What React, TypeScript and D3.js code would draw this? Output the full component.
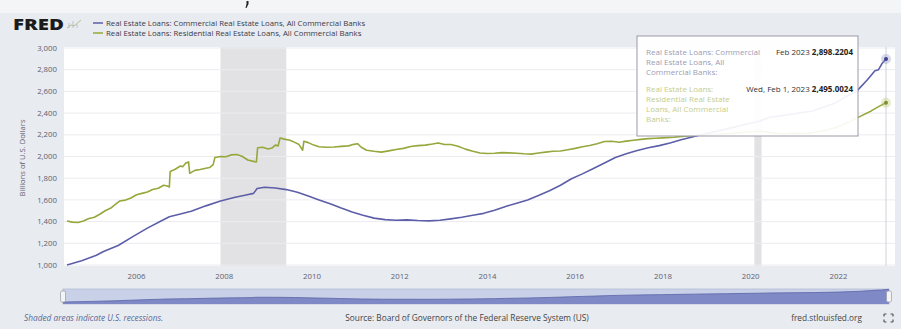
import React from "react";
import * as d3 from "d3";

const W = 901;
const H = 329;

const commercialDates = [
  "2004-06-01","2004-10-01","2005-02-01","2005-04-01","2005-08-01","2005-12-01","2006-04-01","2006-08-01","2006-10-01",
  "2007-01-01","2007-04-01","2007-08-01","2007-12-01","2008-04-01","2008-07-01","2008-09-01","2008-10-01","2008-12-01",
  "2009-03-01","2009-06-01","2009-09-01","2009-12-01","2010-03-01","2010-06-01","2010-09-01","2010-12-01",
  "2011-03-01","2011-06-01","2011-09-01","2011-12-01","2012-03-01","2012-06-01","2012-09-01","2012-12-01",
  "2013-03-01","2013-06-01","2013-09-01","2013-12-01","2014-03-01","2014-06-01","2014-09-01","2014-12-01",
  "2015-03-01","2015-06-01","2015-09-01","2015-12-01","2016-03-01","2016-06-01","2016-09-01","2016-12-01",
  "2017-03-01","2017-06-01","2017-09-01","2017-12-01","2018-03-01","2018-06-01","2018-09-01","2018-12-01",
  "2019-06-01","2019-12-01","2020-03-01","2020-06-01","2020-12-01","2021-06-01","2021-12-01",
  "2022-03-01","2022-06-01","2022-09-01","2022-11-01","2022-12-01","2023-01-01","2023-02-01"
];
const commercialValues = [
  1000,1040,1090,1125,1180,1262,1340,1410,1445,
  1470,1495,1545,1590,1625,1645,1660,1705,1716,
  1710,1695,1670,1635,1600,1565,1525,1488,
  1458,1432,1418,1412,1416,1410,1407,1412,
  1425,1440,1458,1476,1505,1540,1570,1600,
  1640,1685,1735,1795,1840,1890,1940,1990,
  2025,2055,2080,2100,2125,2155,2180,2205,
  2250,2300,2320,2360,2390,2420,2490,
  2550,2600,2710,2790,2800,2860,2898.2204
];

const residentialDates = [
  "2004-06-01","2004-07-15","2004-09-01","2004-10-15","2004-12-01","2005-01-15","2005-03-01","2005-04-15","2005-06-01",
  "2005-07-01","2005-08-15","2005-10-01","2005-11-15","2006-01-01","2006-02-15","2006-04-01","2006-05-15","2006-07-01",
  "2006-08-15","2006-09-15","2006-10-01","2006-10-08","2006-11-15","2007-01-01","2007-01-20","2007-02-15","2007-03-10",
  "2007-03-20","2007-05-01","2007-06-15","2007-08-01","2007-09-01","2007-10-01","2007-10-15","2007-12-01","2008-01-15",
  "2008-03-01","2008-04-15","2008-06-01","2008-07-15","2008-09-01","2008-09-25","2008-10-05","2008-11-15","2009-01-01",
  "2009-02-01","2009-03-01","2009-03-25","2009-04-10","2009-05-15","2009-07-01","2009-08-15","2009-09-15","2009-10-15",
  "2009-10-25","2009-12-01","2010-01-15","2010-03-01","2010-05-01","2010-07-01","2010-09-01","2010-11-01","2010-12-15",
  "2011-01-15","2011-02-15","2011-04-01","2011-06-01","2011-08-01","2011-10-01","2011-12-01","2012-02-01","2012-04-01",
  "2012-06-01","2012-08-01","2012-10-01","2012-11-15","2013-01-01","2013-03-01","2013-05-01","2013-07-01","2013-09-01",
  "2013-11-01","2014-01-01","2014-03-01","2014-05-01","2014-07-01","2014-09-01","2014-11-01","2015-01-01","2015-03-01",
  "2015-05-01","2015-07-01","2015-09-01","2015-11-01","2016-01-01","2016-03-01","2016-05-01","2016-07-01","2016-09-01",
  "2016-11-01","2017-01-01","2017-03-01","2017-05-01","2017-07-01","2017-09-01","2017-11-01","2018-01-01","2018-04-01",
  "2018-07-01","2018-10-01","2019-01-01","2019-04-01","2019-07-01","2019-10-01","2020-01-01","2020-04-01","2020-07-01",
  "2020-10-01","2021-01-01","2021-04-01","2021-07-01","2021-10-01","2022-01-01","2022-04-01","2022-07-01","2022-10-01",
  "2022-12-01","2023-02-01"
];
const residentialValues = [
  1405,1395,1392,1405,1428,1440,1468,1500,1525,
  1552,1590,1598,1618,1648,1660,1672,1695,1708,
  1735,1728,1718,1862,1880,1912,1905,1940,1950,
  1845,1872,1880,1892,1898,1925,1990,2000,1998,
  2015,2018,2000,1968,1955,1950,2080,2085,2070,
  2078,2105,2098,2170,2160,2150,2128,2110,2058,
  2140,2128,2105,2090,2085,2088,2093,2098,2112,
  2118,2085,2058,2048,2040,2052,2065,2075,2092,
  2100,2105,2115,2125,2112,2110,2095,2068,2048,
  2032,2028,2030,2036,2033,2030,2025,2022,2032,
  2040,2048,2050,2062,2075,2090,2102,2118,2138,
  2140,2132,2142,2150,2158,2165,2168,2172,2178,
  2188,2195,2200,2205,2212,2220,2228,2232,2218,
  2210,2215,2212,2225,2245,2275,2320,2370,2420,
  2460,2495.0024
];

const seriesNames = [
  "Real Estate Loans: Commercial Real Estate Loans, All Commercial Banks",
  "Real Estate Loans: Residential Real Estate Loans, All Commercial Banks"
];
const seriesColors = ["#5c5ea8", "#94a83c"];
const yTicks = [1000, 1200, 1400, 1600, 1800, 2000, 2200, 2400, 2600, 2800, 3000];
const xTickYears = [2006, 2008, 2010, 2012, 2014, 2016, 2018, 2020, 2022];
const recessionStarts = ["2007-12-01", "2020-02-01"];
const recessionEnds = ["2009-06-01", "2020-04-01"];

const parse = d3.timeParse("%Y-%m-%d");

export default function App() {
  const plotL = 64, plotR = 895, plotT = 47, plotB = 266;
  const x = d3.scaleTime()
    .domain([parse("2004-06-01")!, parse("2023-02-01")!])
    .range([67, 886]);
  const y = d3.scaleLinear().domain([1000, 3000]).range([265, 48]);

  const com = commercialDates.map((d, i) => ({ d: parse(d)!, v: commercialValues[i] }));
  const res = residentialDates.map((d, i) => ({ d: parse(d)!, v: residentialValues[i] }));

  const line = d3.line<{ d: Date; v: number }>().x(p => x(p.d)).y(p => y(p.v));

  const navT = 289, navB = 304;
  const navX = d3.scaleTime().domain(x.domain()).range([63, 889]);
  const navY = d3.scaleLinear().domain([700, 2950]).range([navB, navT]);
  const navArea = d3.area<{ d: Date; v: number }>()
    .x(p => navX(p.d)).y0(navB).y1(p => navY(p.v));
  const navLine = d3.line<{ d: Date; v: number }>().x(p => navX(p.d)).y(p => navY(p.v));

  const lastC = com[com.length - 1];
  const lastR = res[res.length - 1];
  const font = "'Open Sans', 'Noto Sans', sans-serif";
  const narrow = "'Liberation Sans Narrow', 'Open Sans', sans-serif";

  return (
    <svg width={W} height={H} style={{ position: "absolute", left: 0, top: 0, display: "block" }}
      xmlns="http://www.w3.org/2000/svg">
      <rect x={0} y={0} width={W} height={H} fill="#f4f5f7" />
      <rect x={0} y={13} width={W} height={H - 13} fill="#e8ebf0" />
      <path d="M246.5,1 h2 v3 l-2,4 h-1 l1,-4 z" fill="#222" />
      {/* header */}
      <text x={13} y={30} fontFamily={font} fontWeight={800} fontSize={16.5} fill="#1b1b1b"
        textLength={51} lengthAdjust="spacingAndGlyphs">FRED</text>
      <g fill="none" strokeWidth={1}>
        <rect x={68} y={23} width={2} height={5} fill="#d3d6dc" stroke="none" />
        <rect x={72} y={21} width={2} height={7} fill="#d3d6dc" stroke="none" />
        <rect x={76} y={24} width={2} height={4} fill="#d3d6dc" stroke="none" />
        <polyline points="67,28 71,25 74,26 81,20" stroke="#b7c08f" />
      </g>
      {seriesNames.map((n, i) => (
        <g key={n}>
          <line x1={93} x2={103} y1={23 + i * 10} y2={23 + i * 10} stroke={seriesColors[i]} strokeWidth={1.5} />
          <text x={106} y={25.7 + i * 10} fontFamily={font} fontSize={7.8} fill="#3a3a48">{n}</text>
        </g>
      ))}

      {/* plot */}
      <rect x={plotL} y={plotT} width={plotR - plotL} height={plotB - plotT} fill="#ffffff" />
      {recessionStarts.map((s, i) => (
        <rect key={s} x={x(parse(s)!)} y={plotT} width={x(parse(recessionEnds[i])!) - x(parse(s)!)}
          height={plotB - plotT} fill="#e2e2e4" />
      ))}
      {yTicks.map(t => (
        <line key={t} x1={plotL} x2={plotR} y1={y(t)} y2={y(t)} stroke="#ececf0" strokeWidth={1} />
      ))}
      {yTicks.map(t => (
        <text key={"l" + t} x={57} y={y(t) + 2.6} textAnchor="end" fontFamily={narrow} fontSize={7.8} fill="#606070">
          {d3.format(",")(t)}
        </text>
      ))}
      <text transform={`translate(25,${158}) rotate(-90)`} textAnchor="middle" fontFamily={font} fontSize={7.6} fill="#606070">
        Billions of U.S. Dollars
      </text>
      {xTickYears.map(yr => (
        <text key={yr} x={x(new Date(yr, 0, 1))} y={279} textAnchor="middle" fontFamily={narrow} fontSize={7.8} fill="#606070">
          {yr}
        </text>
      ))}

      <line x1={x(lastC.d)} x2={x(lastC.d)} y1={plotT} y2={plotB} stroke="#cfd2da" strokeWidth={1} />
      <path d={line(res) || ""} fill="none" stroke={seriesColors[1]} strokeWidth={1.6} strokeLinejoin="round" />
      <path d={line(com) || ""} fill="none" stroke={seriesColors[0]} strokeWidth={1.6} strokeLinejoin="round" />
      <circle cx={x(lastC.d)} cy={y(lastC.v)} r={5} fill="#8a8ec8" opacity={0.35} />
      <circle cx={x(lastC.d)} cy={y(lastC.v)} r={2} fill="#3e418c" />
      <circle cx={x(lastR.d)} cy={y(lastR.v)} r={5} fill="#b8c66e" opacity={0.35} />
      <circle cx={x(lastR.d)} cy={y(lastR.v)} r={2} fill="#7d9030" />

      {/* tooltip */}
      <rect x={637} y={36} width={221} height={100} fill="#ffffff" fillOpacity={0.92} stroke="#9a9aa6" strokeWidth={1} />
      <g fontFamily={font} fontSize={8}>
        <text x={646} y={55} fill="#9b9bb3">Real Estate Loans: Commercial</text>
        <text x={646} y={65} fill="#9b9bb3">Real Estate Loans, All</text>
        <text x={646} y={75} fill="#9b9bb3">Commercial Banks:</text>
        <text x={853} y={55} textAnchor="end" fill="#333">Feb 2023 <tspan fontWeight={700} fill="#222">2,898.2204</tspan></text>
        <text x={646} y={92} fill="#c4cc8c">Real Estate Loans:</text>
        <text x={646} y={102} fill="#c4cc8c">Residential Real Estate</text>
        <text x={646} y={112} fill="#c4cc8c">Loans, All Commercial</text>
        <text x={646} y={122} fill="#c4cc8c">Banks:</text>
        <text x={853} y={92} textAnchor="end" fill="#333">Wed, Feb 1, 2023 <tspan fontWeight={700} fill="#222">2,495.0024</tspan></text>
      </g>

      {/* navigator */}
      <rect x={63} y={navT} width={826} height={navB - navT} fill="#c9d1e8" stroke="#b4bdd6" strokeWidth={0.8} />
      <path d={navArea(com) || ""} fill="#7f89c5" />
      <path d={navLine(com) || ""} fill="none" stroke="#5a64a8" strokeWidth={0.8} />
      <rect x={60.5} y={291} width={5} height={11} rx={1.5} fill="#f4f4f6" stroke="#9a9aa6" strokeWidth={0.7} />
      <rect x={886.5} y={291} width={5} height={11} rx={1.5} fill="#f4f4f6" stroke="#9a9aa6" strokeWidth={0.7} />

      {/* footer */}
      <text x={24} y={321} fontFamily={font} fontStyle="italic" fontSize={8.3} fill="#5a6a96">Shaded areas indicate U.S. recessions.</text>
      <text x={467} y={321} textAnchor="middle" fontFamily={font} fontSize={8.3} fill="#444">
        Source: Board of Governors of the Federal Reserve System (US)
      </text>
      <text x={862} y={321} textAnchor="end" fontFamily={font} fontSize={8.3} fill="#444">fred.stlouisfed.org</text>
      <g stroke="#555" strokeWidth={1.2}>
        <path d="M884,314 v2.5 M884,314 h2.5 M893,314 v2.5 M893,314 h-2.5 M884,322 v-2.5 M884,322 h2.5 M893,322 v-2.5 M893,322 h-2.5" fill="none" />
      </g>
    </svg>
  );
}
